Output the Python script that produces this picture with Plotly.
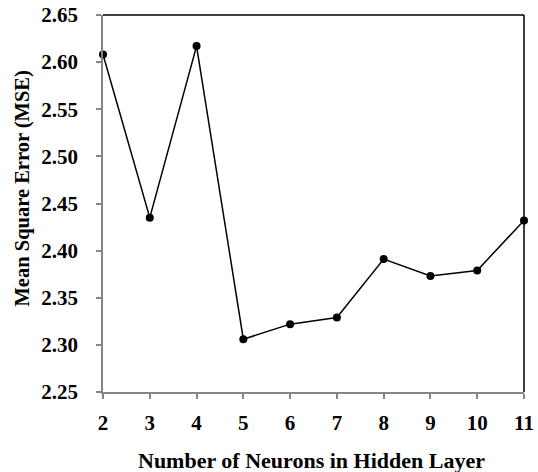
import plotly.graph_objects as go

neurons = [2, 3, 4, 5, 6, 7, 8, 9, 10, 11]
mse = [2.608, 2.435, 2.617, 2.306, 2.322, 2.329, 2.391, 2.373, 2.379, 2.432]
y_ticks = [2.25, 2.30, 2.35, 2.40, 2.45, 2.50, 2.55, 2.60, 2.65]
x_title = "Number of Neurons in Hidden Layer"
y_title = "Mean Square Error (MSE)"

font_family = "Liberation Serif"
tick_font = dict(family=font_family, size=21, color="black", weight="bold")

fig = go.Figure()
fig.add_trace(go.Scatter(
    x=neurons, y=mse, mode="lines+markers",
    line=dict(color="black", width=1.5),
    marker=dict(color="black", size=8),
    cliponaxis=False,
))

fig.update_layout(
    width=538, height=472,
    margin=dict(l=103, r=14, t=15, b=80),
    paper_bgcolor="white", plot_bgcolor="white",
    showlegend=False,
    font=dict(family=font_family, size=20, color="black", weight="bold"),
    xaxis=dict(
        range=[2, 11], tickmode="array", tickvals=neurons,
        automargin=False,
        showline=True, linecolor="#868686", linewidth=1.5,
        ticks="outside", ticklen=5, tickcolor="#868686", tickwidth=1.5,
        showgrid=False, zeroline=False,
        ticklabelstandoff=6,
        tickfont=tick_font,
    ),
    yaxis=dict(
        range=[2.25, 2.65], tickmode="array", tickvals=y_ticks,
        tickformat=".2f",
        automargin=False,
        showline=True, linecolor="#868686", linewidth=1.5,
        ticks="outside", ticklen=5, tickcolor="#868686", tickwidth=1.5,
        showgrid=False, zeroline=False,
        ticklabelstandoff=14,
        tickfont=tick_font,
    ),
    annotations=[
        dict(text=x_title, xref="paper", yref="paper", x=0.4964, y=-0.183,
             xanchor="center", yanchor="middle", showarrow=False,
             font=dict(family=font_family, size=22, color="black", weight="bold")),
        dict(text=y_title, xref="paper", yref="paper", x=-0.1912, y=0.5385,
             xanchor="center", yanchor="middle", showarrow=False, textangle=-90,
             font=dict(family=font_family, size=20.5, color="black", weight="bold")),
    ],
    shapes=[
        dict(type="line", xref="paper", yref="paper", x0=0, x1=1, y0=1, y1=1,
             line=dict(color="black", width=1.5)),
        dict(type="line", xref="paper", yref="paper", x0=1, x1=1, y0=0, y1=1,
             line=dict(color="black", width=1.5)),
    ],
)

fig.write_html("out.html")
